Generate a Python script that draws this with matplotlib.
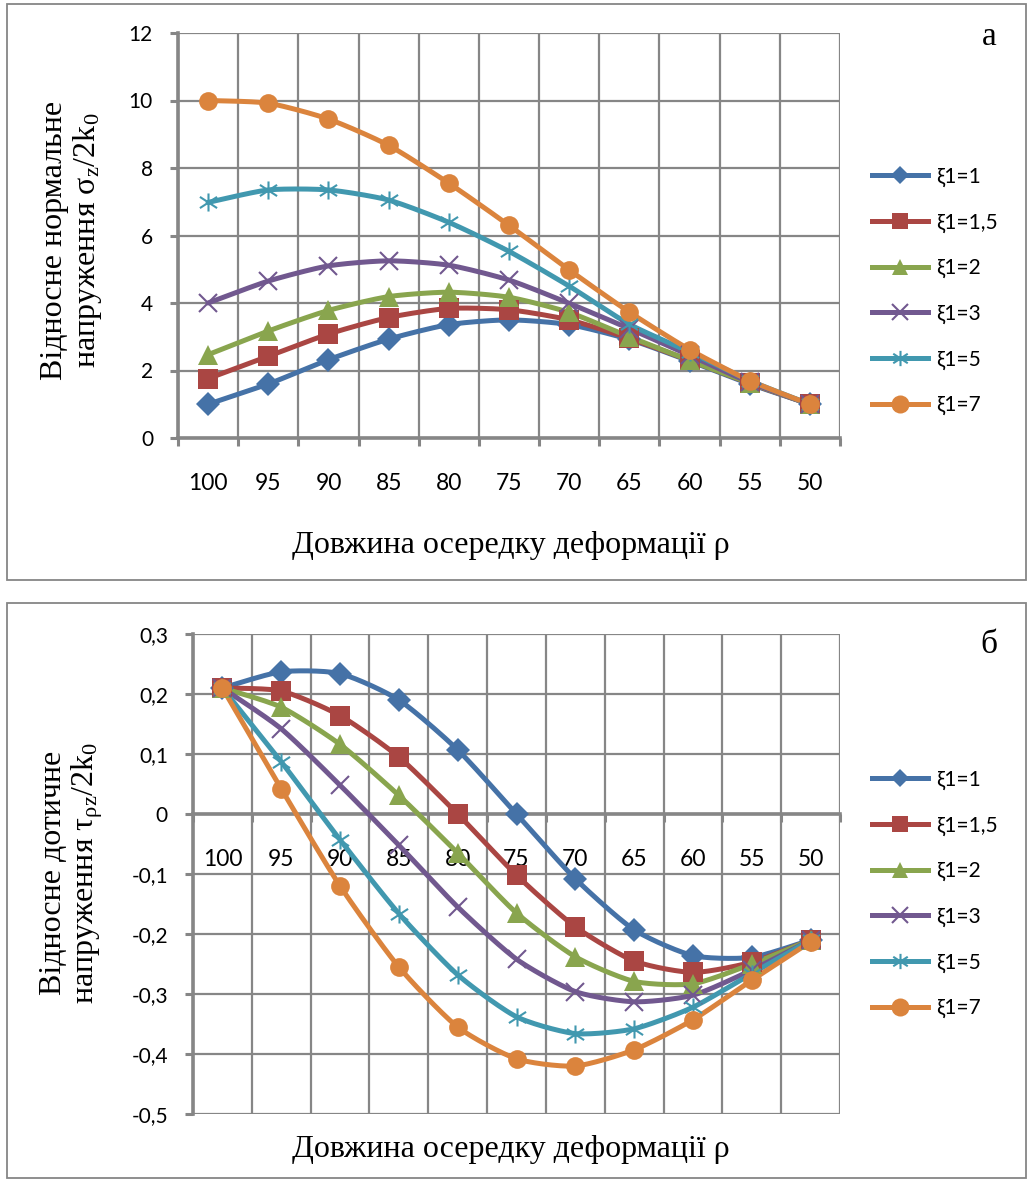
import numpy as np
import matplotlib
matplotlib.use("Agg")
import matplotlib.pyplot as plt
from matplotlib.lines import Line2D
from matplotlib.patches import Rectangle
from matplotlib.path import Path

plt.rcParams['mathtext.fontset'] = 'custom'
plt.rcParams['mathtext.rm'] = 'Liberation Serif'
plt.rcParams['mathtext.it'] = 'Liberation Serif:italic'

# ---------------- data ----------------
rho = [100, 95, 90, 85, 80, 75, 70, 65, 60, 55, 50]
labels = ["ξ1=1", "ξ1=1,5", "ξ1=2", "ξ1=3", "ξ1=5", "ξ1=7"]

sigma_1 = [1.0, 1.6, 2.32, 2.93, 3.36, 3.5, 3.36, 2.92, 2.28, 1.6, 1.0]
sigma_15 = [1.76, 2.42, 3.08, 3.57, 3.84, 3.8, 3.5, 2.95, 2.3, 1.62, 1.0]
sigma_2 = [2.47, 3.17, 3.78, 4.19, 4.32, 4.17, 3.72, 3.0, 2.3, 1.63, 1.0]
sigma_3 = [4.0, 4.65, 5.1, 5.25, 5.12, 4.68, 3.99, 3.24, 2.45, 1.65, 1.0]
sigma_5 = [6.98, 7.35, 7.35, 7.05, 6.39, 5.53, 4.5, 3.37, 2.55, 1.7, 1.0]
sigma_7 = [10.0, 9.92, 9.45, 8.67, 7.55, 6.3, 4.98, 3.73, 2.62, 1.7, 1.0]

tau_1 = [0.21, 0.237, 0.234, 0.19, 0.107, 0.0, -0.108, -0.193, -0.236, -0.239, -0.21]
tau_15 = [0.21, 0.205, 0.164, 0.095, 0.0, -0.102, -0.188, -0.245, -0.264, -0.247, -0.21]
tau_2 = [0.21, 0.178, 0.116, 0.031, -0.065, -0.165, -0.238, -0.279, -0.283, -0.25, -0.21]
tau_3 = [0.21, 0.142, 0.048, -0.052, -0.155, -0.242, -0.296, -0.313, -0.302, -0.26, -0.21]
tau_5 = [0.21, 0.087, -0.043, -0.166, -0.268, -0.338, -0.366, -0.358, -0.322, -0.266, -0.21]
tau_7 = [0.21, 0.042, -0.12, -0.255, -0.355, -0.408, -0.42, -0.393, -0.343, -0.277, -0.213]

sigma_series = [sigma_1, sigma_15, sigma_2, sigma_3, sigma_5, sigma_7]
tau_series = [tau_1, tau_15, tau_2, tau_3, tau_5, tau_7]

top_yticks = [0, 2, 4, 6, 8, 10, 12]
bot_yticks = [-0.5, -0.4, -0.3, -0.2, -0.1, 0.0, 0.1, 0.2, 0.3]

# ---------------- style ----------------
colors = ["#4572A7", "#AA4643", "#89A54E", "#71588F", "#4198AF", "#DB843D"]
star = Path([(0, -1), (0, 1), (-0.95, -0.62), (0.95, 0.62), (-0.95, 0.62), (0.95, -0.62)],
            [Path.MOVETO, Path.LINETO, Path.MOVETO, Path.LINETO, Path.MOVETO, Path.LINETO])
markers = ["D", "s", "^", "x", star, "o"]
msizes = [12, 14, 14, 13, 13, 13.5]
leg_ms = [9, 12, 11, 11, 11, 13]
grid_c = "#868686"
tick_font = ["Lato", "DejaVu Sans"]
serif = ["Liberation Serif", "DejaVu Serif"]

W, H = 1028, 1180
fig = plt.figure(figsize=(W / 100, H / 100), dpi=100)


def fx(px):
    return px / W


def fy(py):
    return 1 - py / H


def smooth(x, y, n=24, k=1 / 9):
    x = np.asarray(x, float)
    y = np.asarray(y, float)
    P = np.column_stack([x, y])
    Pe = np.vstack([P[0], P, P[-1]])
    out = []
    t = np.linspace(0, 1, n, endpoint=False)[:, None]
    for i in range(1, len(Pe) - 2):
        p0, p1, p2, p3 = Pe[i - 1], Pe[i], Pe[i + 1], Pe[i + 2]
        c1 = p1 + (p2 - p0) * k
        c2 = p2 - (p3 - p1) * k
        seg = ((1 - t) ** 3) * p1 + 3 * ((1 - t) ** 2) * t * c1 + 3 * (1 - t) * t ** 2 * c2 + t ** 3 * p2
        out.append(seg)
    out.append(P[-1:])
    out = np.vstack(out)
    return out[:, 0], out[:, 1]


def draw(ax, series):
    xs = np.arange(len(rho))
    for i, s in enumerate(series):
        sx, sy = smooth(xs, s)
        ax.plot(sx, sy, color=colors[i], lw=3.6, solid_capstyle="round", zorder=3)
    for i, s in enumerate(series):
        mew = 1.5 if i in (3, 4) else 0
        ax.plot(xs, s, ls="none", marker=markers[i], ms=msizes[i], color=colors[i],
                mec=colors[i], mew=mew, zorder=4)


def setup(ax, yticks, ylim, fmt, xlabpad):
    n = len(rho)
    ax.set_xlim(-0.5, n - 0.5)
    ax.set_ylim(*ylim)
    ax.set_xticks(np.arange(n + 1) - 0.5)
    ax.set_xticklabels([])
    ax.set_xticks(np.arange(n), minor=True)
    ax.set_xticklabels([str(r) for r in rho], minor=True, fontfamily=tick_font, fontsize=16.5)
    ax.tick_params(axis="x", which="minor", length=0, pad=xlabpad)
    ax.tick_params(axis="x", which="major", length=6, width=2.2, color=grid_c, direction="out")
    ax.set_yticks(yticks)
    ax.set_yticklabels([fmt(v) for v in yticks], fontfamily=tick_font, fontsize=15)
    ax.tick_params(axis="y", length=6, width=2.2, color=grid_c, direction="out", pad=12)
    ax.grid(True, which="major", color=grid_c, lw=1.6)
    ax.set_axisbelow(True)
    for sp in ["top", "right"]:
        ax.spines[sp].set_visible(False)
    for sp in ["left", "bottom"]:
        ax.spines[sp].set_color(grid_c)
        ax.spines[sp].set_linewidth(2.6)


def fmt_bot(v):
    if abs(v) < 1e-9:
        return "0"
    return f"{v:.1f}".replace(".", ",")


# ---------------- top chart ----------------
ax1 = fig.add_axes([fx(178), fy(438), fx(840) - fx(178), fy(33) - fy(438)])
setup(ax1, top_yticks, (0, 12), lambda v: f"{v:d}", 25)
draw(ax1, sigma_series)

# ---------------- bottom chart ----------------
ax2 = fig.add_axes([fx(193), fy(1114), fx(840) - fx(193), fy(634) - fy(1114)])
ax2.spines["bottom"].set_position(("data", 0))
setup(ax2, bot_yticks, (-0.5, 0.3), fmt_bot, 25)
draw(ax2, tau_series)

# ---------------- legends ----------------
handles = [Line2D([], [], color=colors[i], lw=3.6, marker=markers[i], ms=leg_ms[i],
                  mec=colors[i], mew=(1.5 if i in (3, 4) else 0)) for i in range(6)]
for yy in [291, 894]:
    fig.legend(handles, labels, loc="center left", bbox_to_anchor=(fx(872), fy(yy)),
               frameon=False, borderpad=0, borderaxespad=0, handlelength=2.7, handletextpad=0.4,
               labelspacing=1.22, prop={"family": tick_font, "size": 15})

# ---------------- texts ----------------
fig.text(fx(511), fy(545), "Довжина осередку деформації ρ", ha="center", va="center",
         fontfamily=serif, fontsize=23)
fig.text(fx(511), fy(1150), "Довжина осередку деформації ρ", ha="center", va="center",
         fontfamily=serif, fontsize=23)
fig.text(fx(72), fy(240), "Відносне нормальне\nнапруження $\\mathrm{σ_z}$/2k$_\\mathrm{0}$",
         rotation=90, ha="center", va="center", multialignment="center",
         fontfamily=serif, fontsize=23, linespacing=1.05)
fig.text(fx(72), fy(873), "Відносне дотичне\nнапруження $\\mathrm{τ_{ρz}}$/2k$_\\mathrm{0}$",
         rotation=90, ha="center", va="center", multialignment="center",
         fontfamily=serif, fontsize=23, linespacing=1.05)
fig.text(fx(989), fy(37), "а", ha="center", va="center", fontfamily=serif, fontsize=24)
fig.text(fx(989), fy(645), "б", ha="center", va="center", fontfamily=serif, fontsize=24)

# frames
fig.add_artist(Rectangle((fx(7), fy(580)), fx(1026) - fx(7), fy(4) - fy(580),
                         transform=fig.transFigure, fill=False, ec=grid_c, lw=1.3))
fig.add_artist(Rectangle((fx(7), fy(1178)), fx(1026) - fx(7), fy(603) - fy(1178),
                         transform=fig.transFigure, fill=False, ec=grid_c, lw=1.3))

fig.savefig("out.png", dpi=100)
